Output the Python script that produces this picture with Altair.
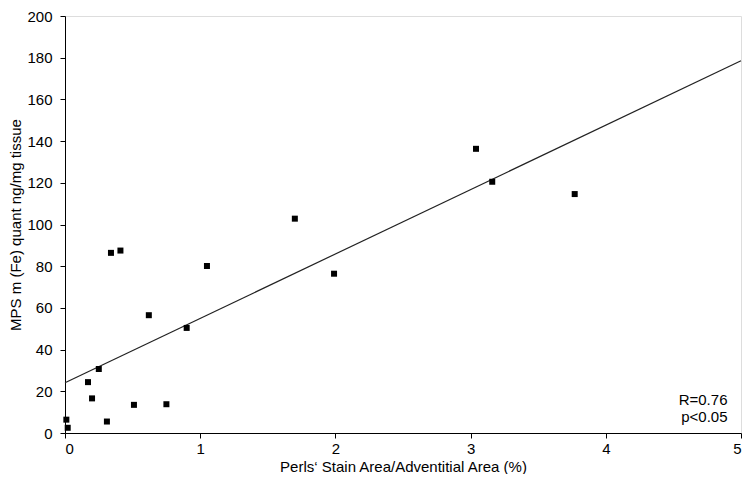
import altair as alt
import pandas as pd

# Scatter data
perls_area = [0.01, 0.02, 0.17, 0.20, 0.25, 0.31, 0.34, 0.41, 0.51, 0.62,
              0.75, 0.90, 1.05, 1.70, 1.99, 3.04, 3.16, 3.77]
mps_fe = [6.4, 2.5, 24.4, 16.6, 30.7, 5.5, 86.4, 87.5, 13.5, 56.5,
          13.8, 50.4, 80.1, 102.8, 76.4, 136.3, 120.5, 114.6]

# Regression line end points
fit_x = [0, 5]
fit_y = [24.1, 178.5]

# Annotation
note_text = ["R=0.76", "p<0.05"]
note_x = [4.9, 4.9]
note_y = [15.7, 7.6]

pts = pd.DataFrame({"x": perls_area, "y": mps_fe})
fit = pd.DataFrame({"x": fit_x, "y": fit_y})
notes = pd.DataFrame({"t": note_text, "x": note_x, "y": note_y})

FONT = "Liberation Sans"
FS = 15

xscale = alt.Scale(domain=[0, 5], nice=False, zero=False)
yscale = alt.Scale(domain=[0, 200], nice=False, zero=False)

xaxis = alt.Axis(title="Perls‘ Stain Area/Adventitial Area (%)", values=[0, 1, 2, 3, 4, 5],
                 format="d", grid=False, domainColor="black", tickColor="black", tickSize=5,
                 labelFont=FONT, labelFontSize=FS, labelColor="black", labelPadding=3,
                 titleFont=FONT, titleFontSize=FS, titleFontWeight="normal",
                 titleColor="black", titleY=33, titleBaseline="middle")
yaxis = alt.Axis(title="MPS m (Fe) quant ng/mg tissue", values=list(range(0, 201, 20)),
                 format="d", grid=False, domainColor="black", tickColor="black", tickSize=5,
                 labelFont=FONT, labelFontSize=FS, labelColor="black", labelPadding=8,
                 titleFont=FONT, titleFontSize=FS, titleFontWeight="normal",
                 titleColor="black", titleX=-50, titleBaseline="middle")

points = alt.Chart(pts).mark_square(color="black", size=36, opacity=1).encode(
    x=alt.X("x:Q", scale=xscale, axis=xaxis),
    y=alt.Y("y:Q", scale=yscale, axis=yaxis),
)

line = alt.Chart(fit).mark_line(color="#222222", strokeWidth=1.2).encode(
    x=alt.X("x:Q", scale=xscale),
    y=alt.Y("y:Q", scale=yscale),
)

text = alt.Chart(notes).mark_text(align="right", baseline="middle", font=FONT,
                                  fontSize=FS, color="black").encode(
    x=alt.X("x:Q", scale=xscale),
    y=alt.Y("y:Q", scale=yscale),
    text="t:N",
)

chart = alt.layer(line, points, text).properties(
    width=676, height=417,
    autosize=alt.AutoSizeParams(type="none"),
    padding={"left": 57, "top": 8, "right": 5, "bottom": 41},
).configure_view(stroke=None).configure(background="white")

chart.save("out.html", embed_options={"renderer": "svg", "actions": False})
